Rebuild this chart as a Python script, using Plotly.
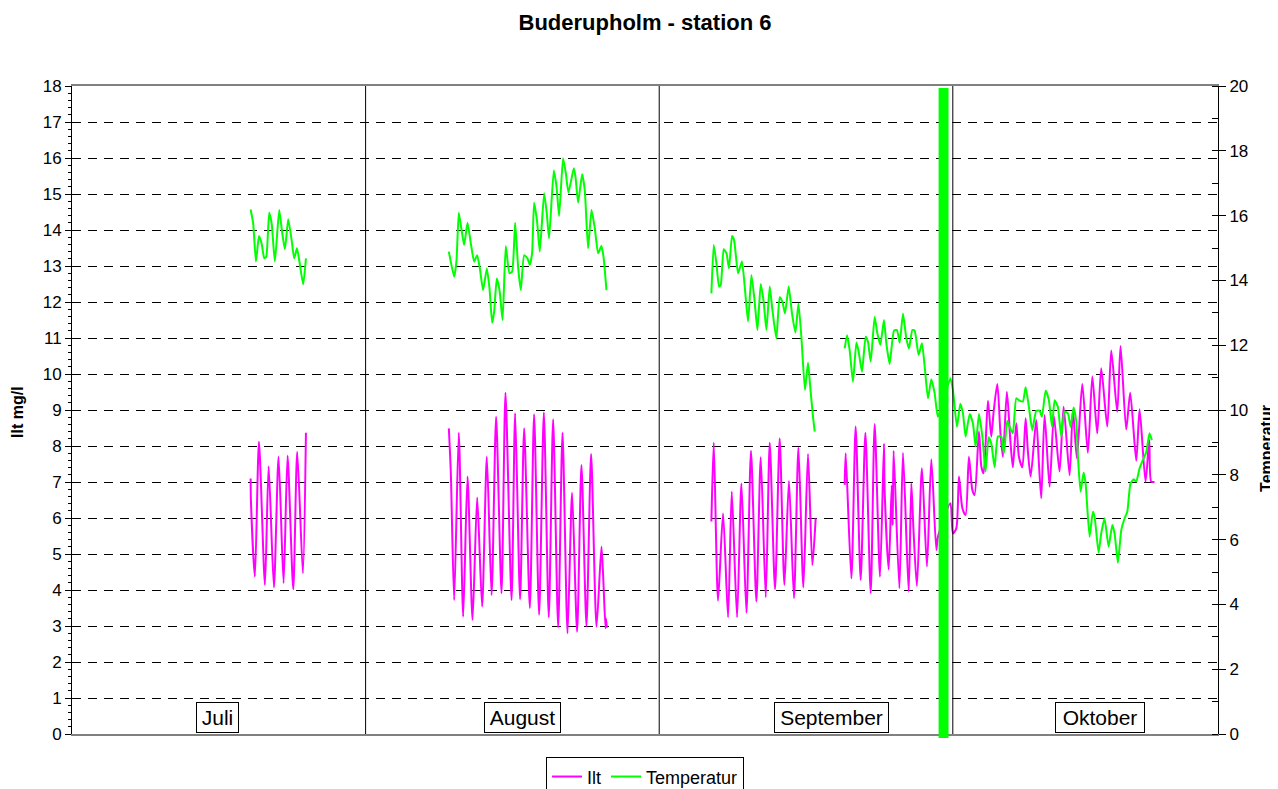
import plotly.graph_objects as go

# ---------------- DATA (x = days since 1 July) ----------------
juli_ilt_day = [18.86, 18.89, 19.31, 19.74, 20.37, 20.76, 21.32, 21.81, 22.34, 22.76, 23.36, 23.78, 24.38, 24.70]
juli_ilt = [7.10, 6.50, 4.37, 8.12, 4.14, 7.44, 4.07, 7.70, 4.19, 7.73, 4.02, 7.84, 4.46, 8.37]

juli_temp_day = [18.86, 19.13, 19.42, 19.74, 20.02, 20.30, 20.51, 20.82, 21.08, 21.42, 21.88, 22.20, 22.48,
                 22.83, 23.19, 23.46, 23.75, 23.99, 24.41, 24.70]
juli_temp = [16.19, 15.76, 14.58, 15.37, 15.14, 14.68, 14.73, 16.09, 15.76, 14.58, 16.17, 15.45, 14.96,
             15.89, 15.25, 14.68, 14.99, 14.63, 13.88, 14.68]

aug_ilt_day = [39.79, 40.00, 40.35, 40.84, 41.30, 41.76, 42.29, 42.78, 43.30, 43.80, 44.30, 44.78, 45.35,
               45.77, 46.41, 46.79, 47.31, 47.74, 48.34, 48.79, 49.32, 49.82, 50.34, 50.80, 51.33, 51.79,
               52.32, 52.80, 53.33, 53.79, 54.32, 54.81, 55.38, 55.90, 56.07, 56.33, 56.39, 56.46]
aug_ilt = [8.49, 7.24, 3.72, 8.37, 3.26, 7.15, 3.17, 6.57, 3.54, 7.70, 3.86, 8.81, 3.91,
           9.48, 3.72, 8.91, 3.74, 8.49, 3.50, 8.88, 3.31, 8.93, 3.24, 8.74, 2.96, 8.37,
           2.80, 6.70, 2.84, 7.47, 3.00, 7.78, 2.98, 5.20, 4.46, 2.94, 3.21, 2.95]

aug_temp_day = [39.79, 40.35, 40.60, 40.84, 41.13, 41.40, 41.76, 42.11, 42.46, 42.78, 43.06, 43.41, 43.80,
                44.08, 44.36, 44.57, 44.85, 45.14, 45.46, 45.80, 46.19, 46.47, 46.79, 47.10, 47.39, 47.74,
                48.09, 48.34, 48.58, 48.79, 49.11, 49.39, 49.85, 50.13, 50.37, 50.87, 51.16, 51.43, 51.85,
                52.14, 52.42, 52.98, 53.16, 53.44, 53.86, 54.14, 54.49, 54.85, 55.20, 55.55, 55.90, 56.12,
                56.43]
aug_temp = [14.89, 14.11, 14.63, 16.09, 15.56, 15.09, 15.78, 15.14, 14.58, 14.78, 14.37, 13.70, 14.37,
            13.76, 12.69, 13.03, 14.06, 13.70, 12.78, 15.06, 14.22, 14.27, 15.78, 14.42, 13.70, 14.78,
            14.68, 14.48, 14.84, 16.40, 15.81, 14.89, 16.69, 16.07, 15.30, 17.39, 16.89, 15.99, 17.77,
            17.31, 16.71, 17.46, 17.20, 16.40, 17.28, 16.79, 14.99, 16.17, 15.61, 14.84, 15.06, 14.73,
            13.70]

sep1_ilt_day = [67.51, 67.76, 68.21, 68.74, 69.27, 69.66, 70.22, 70.68, 71.21, 71.69, 72.26, 72.72, 73.25,
                73.67, 74.23, 74.72, 75.22, 75.70, 76.23, 76.70, 77.22, 77.71, 78.17, 78.52]
sep1_ilt = [5.90, 8.09, 3.70, 6.13, 3.24, 6.73, 3.24, 6.96, 3.37, 7.87, 3.68, 7.69, 3.80,
            8.09, 4.02, 8.21, 4.14, 7.03, 3.77, 7.96, 4.07, 7.78, 4.69, 5.99]

sep1_temp_day = [67.51, 67.76, 68.04, 68.32, 68.50, 68.81, 69.10, 69.37, 69.69, 69.90, 70.32, 70.50, 70.74,
                 71.03, 71.38, 71.74, 72.08, 72.37, 72.72, 73.03, 73.32, 73.67, 73.95, 74.37, 74.72, 75.01,
                 75.28, 75.67, 76.02, 76.38, 76.70, 77.01, 77.39, 77.71, 77.96, 78.24, 78.42]
sep1_temp = [13.60, 15.09, 14.53, 13.81, 13.86, 14.96, 14.84, 14.37, 15.37, 15.25, 14.22, 14.37, 14.58,
             13.81, 12.73, 14.17, 13.34, 12.47, 13.89, 13.34, 12.47, 13.81, 13.09, 12.21, 13.48, 13.34,
             12.98, 13.81, 12.98, 12.39, 13.29, 12.26, 10.62, 11.46, 10.67, 9.79, 9.33]

sep2_okt_ilt_day = [81.58, 81.69, 82.29, 82.74, 83.27, 83.77, 84.33, 84.75, 85.31, 85.73, 85.80, 86.23,
                    86.55, 86.65, 86.75, 87.36, 87.74, 88.34, 88.62, 88.83, 89.21, 89.74, 90.27, 90.73,
                    91.26, 91.43, 92.74, 93.01, 93.37, 93.65, 94.01, 94.35, 94.70, 95.06, 95.30, 95.76,
                    96.01, 96.25, 96.71, 97.06, 97.31, 97.70, 98.02, 98.29, 98.71, 99.07, 99.34, 99.70,
                    99.98, 100.34, 100.69, 100.93, 101.22, 101.81, 102.09, 102.34, 102.69, 103.22, 103.67,
                    104.27, 104.70, 105.33, 105.68, 106.10, 106.67, 107.26, 107.73, 108.25, 108.67, 109.31,
                    109.73, 110.36, 110.71, 111.31, 111.73, 112.37, 112.72, 113.35, 113.74, 113.95, 114.30]
sep2_okt_ilt = [6.92, 7.80, 4.32, 8.54, 4.28, 8.37, 3.91, 8.61, 4.37, 8.06, 6.78, 4.57,
                6.90, 5.80, 7.87, 4.05, 7.81, 3.95, 6.96, 5.76, 4.11, 7.38, 4.65, 7.63,
                5.11, 5.48, 6.41, 5.57, 5.71, 7.15, 6.27, 6.08, 7.70, 6.78, 6.64, 8.40,
                7.43, 7.24, 9.26, 8.26, 8.95, 9.72, 8.40, 7.70, 9.51, 8.17, 7.41, 8.63,
                7.70, 7.41, 8.77, 7.84, 7.15, 8.72, 7.52, 6.55, 8.86, 6.87, 8.83,
                7.29, 9.09, 7.19, 9.00, 7.66, 9.72, 7.81, 9.93, 8.35, 10.16, 8.54,
                10.65, 8.95, 10.78, 8.46, 9.48, 7.59, 9.02, 7.01, 8.17, 7.01, 7.00]

sep2_okt_temp_day = [81.58, 81.83, 82.11, 82.46, 82.82, 83.06, 83.41, 83.80, 84.04, 84.33, 84.75, 85.03,
                     85.35, 85.73, 85.98, 86.33, 86.79, 87.10, 87.39, 87.74, 88.09, 88.37, 88.73, 88.97,
                     89.39, 89.74, 90.03, 90.38, 90.73, 91.08, 91.43, 92.74, 93.01, 93.44, 93.79, 94.07,
                     94.35, 94.78, 95.12, 95.41, 95.76, 96.12, 96.46, 96.78, 97.06, 97.41, 97.76, 98.12,
                     98.40, 98.75, 99.00, 99.34, 99.70, 100.05, 100.40, 100.69, 101.03, 101.39, 101.81,
                     102.16, 102.41, 102.80, 103.14, 103.48, 103.75, 104.09, 104.45, 104.80, 105.15,
                     105.44, 105.75, 106.04, 106.21, 106.49, 106.81, 107.02, 107.44, 107.79, 107.97,
                     108.39, 108.67, 109.02, 109.45, 109.84, 110.08, 110.43, 110.79, 111.14, 111.42,
                     111.77, 112.12, 112.37, 112.72, 113.07, 113.43, 113.77, 114.02]
sep2_okt_temp = [11.90, 12.31, 11.85, 10.87, 12.08, 11.80, 11.18, 12.26, 12.11, 11.49, 12.88, 12.37,
                 12.01, 12.78, 12.06, 11.42, 12.45, 12.47, 12.08, 12.98, 12.21, 11.90, 12.47, 12.45,
                 11.70, 12.06, 11.34, 10.36, 10.95, 10.52, 9.79, 10.98, 10.62, 9.48, 10.19, 9.90,
                 9.18, 9.88, 9.59, 8.87, 9.88, 9.18, 8.10, 9.16, 8.97, 8.23, 9.18, 9.18,
                 8.66, 9.67, 9.48, 9.28, 10.36, 10.29, 10.26, 10.70, 10.10, 9.38, 9.98,
                 9.98, 9.79, 10.60, 10.31, 9.48, 10.30, 10.10, 9.18, 9.95, 9.90,
                 9.48, 10.08, 9.64, 8.56, 7.48, 8.07, 7.74, 6.09, 6.86, 6.71,
                 5.60, 6.19, 6.66, 5.78, 6.45, 6.19, 5.29, 6.30, 6.66, 6.86,
                 7.74, 7.86, 7.79, 8.20, 8.46, 8.71, 9.28, 9.07]

month_names = ["Juli", "August", "September", "Oktober"]
month_starts = [0, 31, 62, 93]
month_label_day = [15.4, 47.6, 80.2, 108.5]
x_end = 121
event_start_day, event_end_day = 91.5, 92.55

ilt_range = [0, 18]
temp_range = [0, 20]


def join(*segments):
    xs, ys = [], []
    for i, (sx, sy) in enumerate(segments):
        if i:
            xs.append(None)
            ys.append(None)
        xs += list(sx)
        ys += list(sy)
    return xs, ys


ilt_x, ilt_y = join((juli_ilt_day, juli_ilt), (aug_ilt_day, aug_ilt),
                    (sep1_ilt_day, sep1_ilt), (sep2_okt_ilt_day, sep2_okt_ilt))
temp_x, temp_y = join((juli_temp_day, juli_temp), (aug_temp_day, aug_temp),
                      (sep1_temp_day, sep1_temp), (sep2_okt_temp_day, sep2_okt_temp))

FONT = "Arial, Liberation Sans, sans-serif"

fig = go.Figure()
fig.add_trace(go.Scatter(x=ilt_x, y=ilt_y, mode="lines", name="Ilt",
                         line=dict(color="#ff00ff", width=2, shape="spline", smoothing=0.7),
                         yaxis="y", connectgaps=False))
fig.add_trace(go.Scatter(x=temp_x, y=temp_y, mode="lines", name="Temperatur",
                         line=dict(color="#00ff00", width=2, shape="spline", smoothing=0.5),
                         yaxis="y2", connectgaps=False))

shapes = []
for m in month_starts[1:]:
    shapes.append(dict(type="line", xref="x", yref="paper", x0=m, x1=m, y0=0, y1=1,
                       line=dict(color="#000000", width=1), layer="above"))
shapes.append(dict(type="rect", xref="x", yref="paper", x0=event_start_day, x1=event_end_day,
                   y0=-0.006, y1=0.997, fillcolor="#00ff00", line=dict(width=0), layer="above"))

annotations = []
widths = [41, 75, 113, 88]
for name, d, w in zip(month_names, month_label_day, widths):
    annotations.append(dict(text=name, x=d, xref="x", y=0.0015, yref="paper", xanchor="center",
                            yanchor="bottom", showarrow=False, font=dict(family=FONT, size=21, color="#000"),
                            bordercolor="#000", borderwidth=1, borderpad=0, bgcolor="#fff",
                            width=w, height=29))
annotations.append(dict(text="<b>Ilt mg/l</b>", x=-0.0471, xref="paper", y=0.497, yref="paper",
                        textangle=-90, showarrow=False, font=dict(family=FONT, size=16, color="#000"),
                        xanchor="center", yanchor="middle"))
annotations.append(dict(text="<b>Temperatur</b>", x=1.0428, xref="paper", y=0.44, yref="paper",
                        textangle=-90, showarrow=False, font=dict(family=FONT, size=16, color="#000"),
                        xanchor="center", yanchor="middle"))

# page body adds an 8px offset, so the figure is 8px smaller and its margins compensate
fig.update_layout(
    width=1270, height=781,
    margin=dict(l=64, r=60, t=78, b=55, autoexpand=False),
    paper_bgcolor="white", plot_bgcolor="white",
    font=dict(family=FONT, color="#000"),
    title=dict(text="<b>Buderupholm - station 6</b>", x=0.5, xref="paper", y=0.982, yanchor="middle",
               font=dict(family=FONT, size=22, color="#000")),
    xaxis=dict(range=[0, x_end], showticklabels=False, ticks="", showgrid=False, zeroline=False,
               showline=True, linecolor="#808080", linewidth=2, mirror=True),
    yaxis=dict(range=ilt_range, dtick=1, tick0=0, ticks="outside", ticklen=6, tickcolor="#000",
               showline=True, linecolor="#000", linewidth=1,
               showgrid=True, gridcolor="#000", gridwidth=1, griddash="9px,7px", zeroline=False,
               tickfont=dict(family=FONT, size=17, color="#000"),
               minor=dict(dtick=0.2, ticks="outside", ticklen=3, tickcolor="#000", showgrid=False)),
    yaxis2=dict(range=temp_range, dtick=2, tick0=0, overlaying="y", side="right", anchor="x",
                ticks="outside", ticklen=7, tickcolor="#000", showline=True, linecolor="#000",
                linewidth=1, showgrid=False, zeroline=False,
                tickfont=dict(family=FONT, size=17, color="#000"),
                minor=dict(dtick=1, ticks="inside", ticklen=6, tickcolor="#000", showgrid=False)),
    yaxis3=dict(range=temp_range, dtick=2, tick0=0, overlaying="y", side="right", anchor="x",
                ticks="inside", ticklen=7, tickcolor="#000", showticklabels=False, showline=False,
                showgrid=False, zeroline=False),
    showlegend=True,
    legend=dict(orientation="h", x=0.5, xanchor="center", y=-0.036, yanchor="top",
                bordercolor="#000", borderwidth=1, bgcolor="#fff",
                font=dict(family=FONT, size=18, color="#000"), itemwidth=30, tracegroupgap=0),
    shapes=shapes,
    annotations=annotations,
)

fig.write_html("out.html")
